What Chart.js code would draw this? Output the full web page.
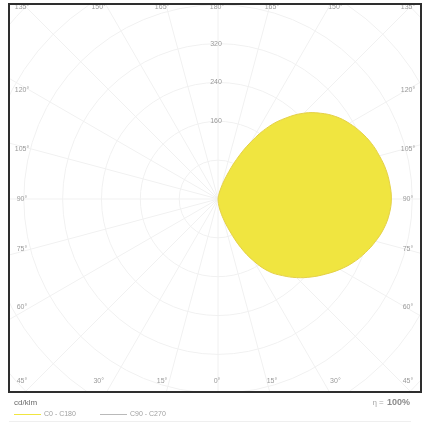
<!DOCTYPE html>
<html>
<head>
<meta charset="utf-8">
<title>Luminous intensity distribution</title>
<script src="https://cdn.jsdelivr.net/npm/chart.js@4.4.1/dist/chart.umd.min.js"></script>
<style>
  html, body { margin: 0; padding: 0; background: #ffffff; }
  #wrap { width: 422px; height: 427px; }
</style>
</head>
<body>
<div id="wrap"><canvas id="ldc" width="422" height="427"></canvas></div>
<script>
// Polar intensity curves, gamma = 0° points straight down, 180° straight up.
const gammaAngles = [0, 5, 10, 15, 20, 25, 30, 35, 40, 45, 50, 55, 60, 65, 70, 75, 80, 85, 90,
                     95, 100, 105, 110, 115, 120, 125, 130, 135, 140, 145, 150, 155, 160, 165, 170, 175, 180];

// cd/klm per C-plane
const intensityC0 = [0, 9, 23, 42, 70, 110, 148, 182, 206, 229, 250, 270, 290, 308, 323, 336, 347, 354, 357,
                     355, 351, 344, 336, 325, 312, 296, 275, 250, 218, 182, 136, 90, 50, 24, 10, 4, 0];
const intensityC180 = [0, 0, 0, 0, 0, 0, 0, 0, 0, 0, 0, 0, 0, 0, 0, 0, 0, 0, 0,
                       0, 0, 0, 0, 0, 0, 0, 0, 0, 0, 0, 0, 0, 0, 0, 0, 0, 0];
const intensityC90 = [0, 0, 0, 0, 0, 0, 0, 0, 0, 0, 0, 0, 0, 0, 0, 0, 0, 0, 0,
                      0, 0, 0, 0, 0, 0, 0, 0, 0, 0, 0, 0, 0, 0, 0, 0, 0, 0];
const intensityC270 = [0, 0, 0, 0, 0, 0, 0, 0, 0, 0, 0, 0, 0, 0, 0, 0, 0, 0, 0,
                       0, 0, 0, 0, 0, 0, 0, 0, 0, 0, 0, 0, 0, 0, 0, 0, 0, 0];

// grid rings and the ones that carry a value label
const ringValues = [80, 160, 240, 320, 400, 480, 560, 640];
const ringLabels = [160, 240, 320];
// angle labels around the frame
const angleTicks = [0, 15, 30, 45, 60, 75, 90, 105, 120, 135, 150, 165, 180];

const unitLabel = 'cd/klm';
const efficiencyLabel = '100%';
const seriesNames = ['C0 - C180', 'C90 - C270'];
const seriesColors = ['rgb(240,229,64)', '#b9b9b9'];

// Right half-plane carries the first C-plane, left half the opposite one.
function polarPoints(rightPlane, leftPlane) {
  const pts = [];
  for (let i = 0; i < gammaAngles.length; i++) {
    const g = gammaAngles[i] * Math.PI / 180;
    pts.push({ x: rightPlane[i] * Math.sin(g), y: -rightPlane[i] * Math.cos(g) });
  }
  for (let i = gammaAngles.length - 1; i >= 0; i--) {
    const g = gammaAngles[i] * Math.PI / 180;
    pts.push({ x: -leftPlane[i] * Math.sin(g), y: -leftPlane[i] * Math.cos(g) });
  }
  return pts;
}

const FONT = '"Liberation Sans", Arial, sans-serif';

const polarGrid = {
  id: 'polarGrid',
  beforeDatasetsDraw(chart) {
    const { ctx, chartArea: a, scales: { x, y } } = chart;
    const cx = x.getPixelForValue(0), cy = y.getPixelForValue(0);
    const px = v => x.getPixelForValue(v) - cx;
    ctx.save();
    ctx.beginPath();
    ctx.rect(a.left, a.top, a.right - a.left, a.bottom - a.top);
    ctx.clip();
    ctx.strokeStyle = '#f1f1f1';
    ctx.lineWidth = 1;
    ringValues.forEach(v => {
      ctx.beginPath();
      ctx.arc(cx, cy, px(v), 0, Math.PI * 2);
      ctx.stroke();
    });
    const far = px(900);
    for (let d = 0; d < 360; d += 15) {
      const t = d * Math.PI / 180;
      ctx.beginPath();
      ctx.moveTo(cx, cy);
      ctx.lineTo(cx + far * Math.sin(t), cy + far * Math.cos(t));
      ctx.stroke();
    }
    ctx.restore();

    // value labels along the upward axis
    ctx.save();
    ctx.font = '7px ' + FONT;
    ctx.fillStyle = '#9a9a9a';
    ctx.textAlign = 'center';
    ctx.textBaseline = 'middle';
    ringLabels.forEach(v => {
      ctx.fillText(String(v), cx - 2, y.getPixelForValue(v));
    });

    // angle labels placed around the frame
    const colL = a.left + 13, colR = a.right - 13;
    const rowT = a.top + 3, rowB = a.bottom - 11;
    const spanV = 205, spanH = 188;
    angleTicks.forEach(g => {
      const txt = g + '°';
      [1, -1].forEach(side => {
        if ((g === 0 || g === 180) && side === -1) return;
        let lx, ly;
        if (g <= 45 || g >= 135) {
          const down = g <= 45;
          const off = Math.tan((down ? g : 180 - g) * Math.PI / 180) * spanV;
          lx = Math.min(colR, Math.max(colL, cx - 1 + side * off));
          ly = down ? rowB : rowT;
        } else {
          lx = side === 1 ? colR : colL;
          ly = cy + Math.tan((90 - g) * Math.PI / 180) * spanH;
        }
        ctx.fillText(txt, lx, ly);
      });
    });
    ctx.restore();
  },
  afterDraw(chart) {
    const { ctx, chartArea: a } = chart;
    ctx.save();
    ctx.strokeStyle = '#2e2e2e';
    ctx.lineWidth = 2;
    ctx.strokeRect(a.left, a.top, a.right - a.left, a.bottom - a.top);

    // unit and efficiency captions
    ctx.textBaseline = 'middle';
    ctx.textAlign = 'left';
    ctx.fillStyle = '#6a6a6a';
    ctx.font = '8px ' + FONT;
    ctx.fillText(unitLabel, a.left + 5, a.bottom + 11);

    ctx.textAlign = 'right';
    ctx.font = 'bold 9px ' + FONT;
    ctx.fillStyle = '#8a8a8a';
    const effRight = a.right - 11;
    ctx.fillText(efficiencyLabel, effRight, a.bottom + 11);
    const effW = ctx.measureText(efficiencyLabel).width;
    ctx.font = '8px ' + FONT;
    ctx.fillStyle = '#a8a8a8';
    ctx.fillText('η = ', effRight - effW - 1, a.bottom + 11);

    // series key
    const keyY = a.bottom + 22;
    let kx = a.left + 5;
    ctx.font = '7px ' + FONT;
    ctx.textAlign = 'left';
    seriesNames.forEach((name, i) => {
      ctx.strokeStyle = seriesColors[i];
      ctx.lineWidth = 1;
      ctx.beginPath();
      ctx.moveTo(kx, keyY + 0.5);
      ctx.lineTo(kx + 27, keyY + 0.5);
      ctx.stroke();
      ctx.fillStyle = '#a0a0a0';
      ctx.fillText(name, kx + 30, keyY);
      kx += 86;
    });

    // faint rule under the key
    ctx.strokeStyle = '#efefef';
    ctx.lineWidth = 1;
    ctx.beginPath();
    ctx.moveTo(a.left, a.bottom + 29.5);
    ctx.lineTo(a.right - 10, a.bottom + 29.5);
    ctx.stroke();
    ctx.restore();
  }
};

new Chart(document.getElementById('ldc'), {
  type: 'scatter',
  data: {
    datasets: [
      {
        label: seriesNames[0],
        data: polarPoints(intensityC0, intensityC180),
        showLine: true,
        fill: 'shape',
        backgroundColor: seriesColors[0],
        borderColor: 'rgb(228,208,72)',
        borderWidth: 1,
        pointRadius: 0,
        tension: 0.4
      },
      {
        label: seriesNames[1],
        data: polarPoints(intensityC90, intensityC270),
        showLine: true,
        fill: false,
        borderColor: seriesColors[1],
        borderWidth: 1,
        pointRadius: 0
      }
    ]
  },
  options: {
    responsive: false,
    animation: false,
    layout: { padding: { left: 9, right: 1, top: 4, bottom: 35 } },
    scales: {
      x: { type: 'linear', min: -430.5, max: 418, display: false },
      y: { type: 'linear', min: -397.6, max: 401.7, display: false }
    },
    plugins: { legend: { display: false }, tooltip: { enabled: false } }
  },
  plugins: [polarGrid]
});
</script>
</body>
</html>
